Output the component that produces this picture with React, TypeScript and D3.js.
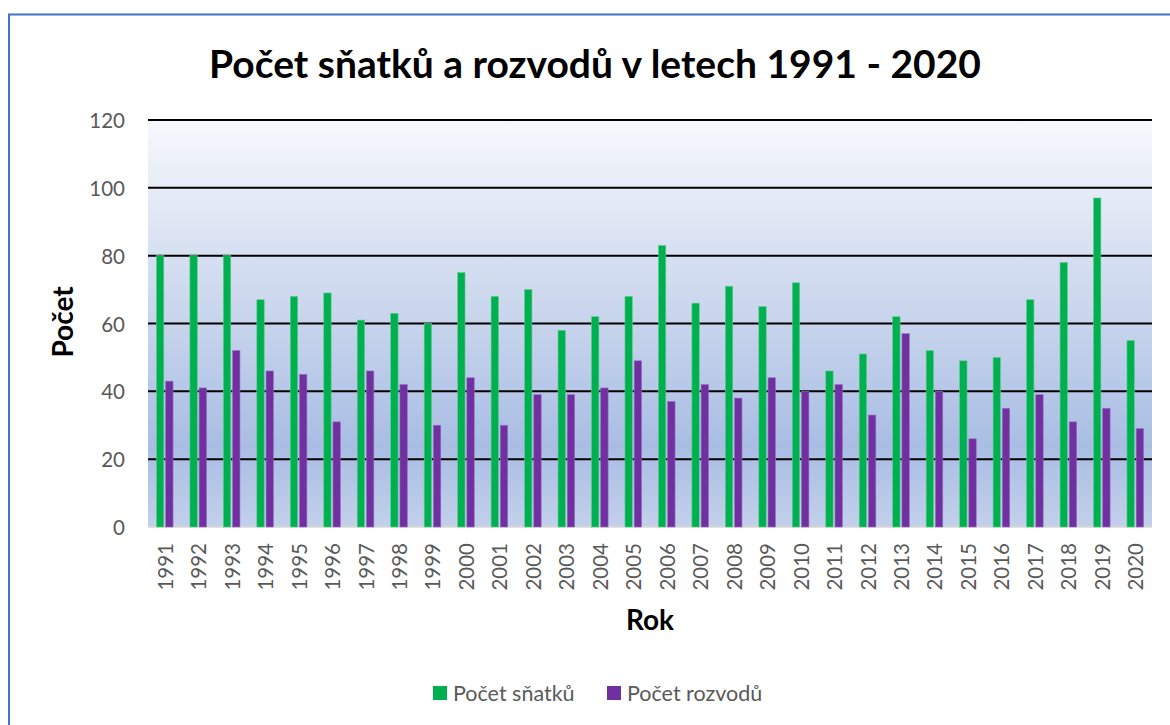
import React from 'react';
import * as d3 from 'd3';

const years = [
  '1991', '1992', '1993', '1994', '1995', '1996', '1997', '1998', '1999', '2000',
  '2001', '2002', '2003', '2004', '2005', '2006', '2007', '2008', '2009', '2010',
  '2011', '2012', '2013', '2014', '2015', '2016', '2017', '2018', '2019', '2020',
];
const snatky = [80, 80, 80, 67, 68, 69, 61, 63, 60, 75, 68, 70, 58, 62, 68, 83, 66, 71, 65, 72, 46, 51, 62, 52, 49, 50, 67, 78, 97, 55];
const rozvody = [43, 41, 52, 46, 45, 31, 46, 42, 30, 44, 30, 39, 39, 41, 49, 37, 42, 38, 44, 40, 42, 33, 57, 40, 26, 35, 39, 31, 35, 29];
const seriesNames = ['Počet sňatků', 'Počet rozvodů'];
const seriesColors = ['#00b050', '#7030a0'];
const yTicks = [0, 20, 40, 60, 80, 100, 120];

const W = 1170;
const H = 725;
const plot = { left: 148, right: 1152, top: 120, bottom: 527 };
const FONT = 'Lato, "Open Sans", sans-serif';

const App: React.FC = () => {
  const x = d3.scaleBand<string>().domain(years).range([plot.left, plot.right]);
  const bw = x.bandwidth();
  const xs = d3.scaleBand<number>()
    .domain([0, 1])
    .range([bw / 2 - 8.3, bw / 2 + 8.3])
    .paddingInner(0.2);
  const y = d3.scaleLinear().domain([0, 120]).range([plot.bottom, plot.top]);
  const series = [snatky, rozvody];

  return (
    <svg width={W} height={H} style={{ position: 'absolute', left: 0, top: 0, background: '#fff' }}>
      <defs>
        <linearGradient id="bg" x1="0" y1="0" x2="0" y2="1">
          <stop offset="0" stopColor="#f6f8fc" />
          <stop offset="0.5" stopColor="#c7d4ec" />
          <stop offset="0.8" stopColor="#a9bde4" />
          <stop offset="1" stopColor="#c2d0ea" />
        </linearGradient>
      </defs>

      {/* chart frame */}
      <rect x={9} y={14.5} width={W + 10} height={H + 10} fill="none" stroke="#4472c4" strokeWidth={2} />

      {/* plot background */}
      <rect x={plot.left} y={plot.top} width={plot.right - plot.left} height={plot.bottom - plot.top} fill="url(#bg)" />

      {/* grid lines */}
      {yTicks.map(t => (
        <line
          key={t}
          x1={plot.left}
          x2={plot.right}
          y1={y(t)}
          y2={y(t)}
          stroke={t === 0 ? '#d9d9d9' : '#000'}
          strokeWidth={t === 0 ? 1.5 : 2}
        />
      ))}

      {/* bars */}
      {series.map((vals, si) =>
        vals.map((v, i) => (
          <rect
            key={`${si}-${i}`}
            x={(x(years[i]) ?? 0) + (xs(si) ?? 0)}
            y={y(v)}
            width={xs.bandwidth()}
            height={y(0) - y(v)}
            fill={seriesColors[si]}
            stroke={si === 0 ? '#5ccf8a' : '#9a6cc0'}
            strokeWidth={0.6}
          />
        ))
      )}

      {/* y tick labels */}
      {yTicks.map(t => (
        <text
          key={t}
          x={125}
          y={y(t)}
          textAnchor="end"
          dominantBaseline="central"
          fontFamily={FONT}
          fontSize={20.5}
          fill="#595959"
        >
          {t}
        </text>
      ))}

      {/* x tick labels */}
      {years.map(yr => {
        const cx = (x(yr) ?? 0) + bw / 2;
        return (
          <text
            key={yr}
            transform={`translate(${cx},${543}) rotate(-90)`}
            textAnchor="end"
            dominantBaseline="central"
            fontFamily={FONT}
            fontSize={20.5}
            fill="#595959"
          >
            {yr}
          </text>
        );
      })}

      {/* title */}
      <text x={595} y={78} textAnchor="middle" fontFamily={FONT} fontWeight="bold" fontSize={39} fill="#000">
        Počet sňatků a rozvodů v letech 1991 - 2020
      </text>

      {/* axis titles */}
      <text x={650} y={630} textAnchor="middle" fontFamily={FONT} fontWeight="bold" fontSize={28} fill="#000">
        Rok
      </text>
      <text
        transform={`translate(${73},${322}) rotate(-90)`}
        textAnchor="middle"
        fontFamily={FONT}
        fontWeight="bold"
        fontSize={28}
        fill="#000"
      >
        Počet
      </text>

      {/* legend */}
      {seriesNames.map((name, i) => {
        const lx = i === 0 ? 433 : 607;
        return (
          <g key={name}>
            <rect x={lx} y={686} width={14} height={14} fill={seriesColors[i]} />
            <text
              x={lx + 20}
              y={693}
              dominantBaseline="central"
              fontFamily={FONT}
              fontSize={21.5}
              fill="#595959"
            >
              {name}
            </text>
          </g>
        );
      })}
    </svg>
  );
};

export default App;
